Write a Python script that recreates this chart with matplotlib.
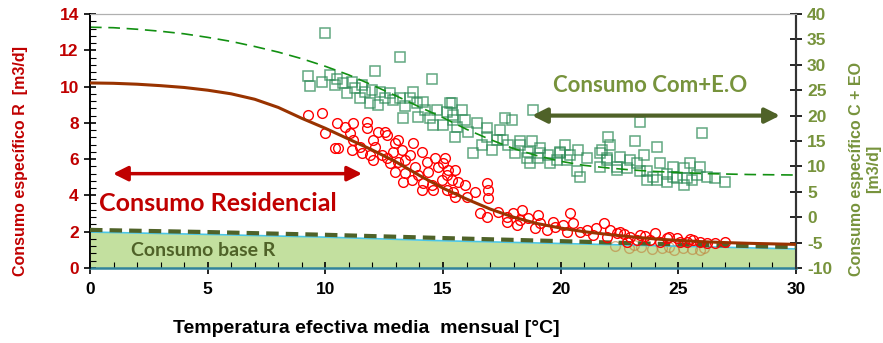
import matplotlib
matplotlib.use("Agg")
import matplotlib.pyplot as plt
from matplotlib.ticker import MultipleLocator

plt.rcParams['font.family'] = ['Liberation Sans', 'DejaVu Sans']
plt.rcParams['font.weight'] = 'bold'
plt.rcParams['axes.labelweight'] = 'bold'
plt.rcParams['axes.unicode_minus'] = False

'''Data read off the chart'''
# residential consumption (left axis, m3/d)
res_T = [9.28, 9.85, 9.99, 10.48, 10.4, 10.55, 10.84, 11.05, 11.19, 11.76, 11.76, 11.19, 11.47, 11.12,
         11.55, 12.04, 12.25, 12.54, 12.61, 12.11, 11.9, 12.04, 12.4, 12.61, 12.96, 13.1, 12.89, 13.25,
         13.1, 12.75, 13.39, 13.74, 14.1, 13.6, 12.96, 13.39, 13.81, 14.31, 14.66, 15.09, 14.8, 15.23,
         13.95, 14.38, 13.67, 14.17, 14.1, 14.52, 14.95, 14.59, 15.16, 15.37, 15.51, 13.32,
         15.02, 15.16, 15.51, 15.65, 15.94, 15.44, 16.01, 16.36, 16.86, 16.93, 16.93, 16.57, 16.86, 17.35,
         17.71, 17.99, 18.35, 18.27, 18.63, 19.05, 19.12, 18.91, 19.69, 19.76, 20.11, 20.4, 20.54, 20.26,
         20.82, 21.11, 21.39, 21.82, 22.1, 21.96, 22.38, 17.71, 18.13, 19.41,
         22.52, 22.95, 23.37, 24.01, 23.8, 24.51, 24.93, 25.36, 25.92, 26.56, 26.99, 22.81, 23.23,
         24.22, 25.07, 25.64, 26.2, 23.6, 24.6, 25.5, 22.7, 21.5]
res_Q = [8.43, 8.56, 7.42, 7.98, 6.6, 6.6, 7.79, 7.42, 7.98, 8.07, 7.7, 7.06, 6.69, 6.5,
         6.32, 7.06, 7.52, 7.52, 7.33, 6.69, 6.23, 5.95, 6.23, 6.05, 6.87, 7.06, 6.41, 6.5,
         5.86, 5.77, 5.95, 6.87, 6.41, 6.23, 5.31, 5.22, 5.58, 5.86, 6.05, 6.05, 5.58, 5.4,
         5.13, 5.31, 4.85, 4.67, 4.3, 4.58, 4.85, 4.3, 4.3, 4.85, 3.93, 4.76,
         5.77, 5.13, 5.4, 4.76, 4.58, 4.21, 3.93, 4.21, 4.67, 4.3, 3.84, 3.02, 2.83, 3.11,
         2.83, 3.02, 3.2, 2.65, 2.74, 2.92, 2.46, 2.19, 2.55, 2.28, 2.37, 3.02, 2.46, 2.0,
         2.0, 2.09, 1.82, 2.46, 2.09, 1.73, 1.91, 2.55, 2.37, 2.09,
         2.0, 1.73, 1.82, 1.91, 1.54, 1.64, 1.64, 1.45, 1.45, 1.4, 1.45, 1.45, 1.54,
         1.45, 1.45, 1.54, 1.36, 1.75, 1.7, 1.6, 1.85, 2.2]

# faint points under the base band
base_T = [22.3, 22.9, 23.4, 23.9, 24.3, 24.8, 25.2, 25.6, 26.1, 23.1, 24.6, 25.9]
base_Q = [1.2, 1.1, 1.15, 1.05, 1.1, 1.0, 1.08, 1.02, 1.1, 1.25, 1.18, 1.0]

# commercial + E.O (right axis, m3/d)
com_T = [9.99, 13.17, 12.11, 14.52, 9.28, 9.35, 9.85, 10.2, 10.48, 10.41, 10.77, 11.12, 10.91, 11.27,
         11.55, 11.69, 11.47, 11.97, 11.9, 12.32, 12.54, 12.75, 12.89, 12.25, 13.17, 13.39, 13.74, 13.6,
         13.88, 14.17, 14.24, 13.32, 13.95, 14.45, 14.73, 15.16, 15.3, 15.44, 14.59, 15.02,
         18.84, 17.92, 17.64, 15.37, 15.8, 15.44, 15.94, 15.58, 16.43, 15.51, 16.08, 16.86, 16.86, 17.42,
         17.28, 16.65, 17.07, 17.78, 18.27, 18.06, 18.77, 18.63, 19.12, 19.05, 19.48, 20.19, 19.97, 20.4,
         20.75, 21.11, 22.03, 21.74, 22.1, 21.96, 19.83, 18.56, 16.29,
         23.37, 26.0, 23.16, 24.08, 26.99, 26.56,
         21.67, 21.96, 22.52, 22.95, 23.52, 22.81, 22.38, 23.66, 24.22, 24.79, 24.51, 25.22, 25.5, 25.36,
         25.78, 24.93, 24.08, 26.2, 23.23, 23.94, 25.92,
         19.97, 20.82, 21.67, 24.79, 25.22, 25.57, 24.51, 23.66, 22.38, 23.37,
         17.57, 18.27, 19.12, 19.55, 20.26, 18.7, 20.68]
com_Q = [36.2, 31.6, 28.8, 27.3, 27.7, 25.8, 26.7, 28.0, 27.3, 26.0, 26.4, 26.7, 24.4, 25.4,
         26.0, 24.7, 23.4, 25.0, 22.4, 24.7, 23.4, 24.4, 23.1, 22.1, 23.4, 21.8, 24.7, 23.4,
         22.4, 22.7, 21.1, 19.5, 19.8, 19.5, 21.1, 20.8, 22.4, 19.1, 18.1, 18.1,
         21.1, 19.1, 19.5, 22.4, 21.1, 20.1, 19.1, 17.8, 18.5, 15.8, 16.8, 17.5, 15.8, 17.2,
         15.2, 14.2, 13.2, 14.2, 14.9, 12.6, 14.9, 12.9, 13.6, 11.6, 12.2, 14.2, 12.6, 12.2,
         13.2, 11.6, 15.8, 13.2, 14.2, 11.6, 11.3, 11.6, 12.6,
         18.8, 16.5, 14.9, 13.9, 7.0, 7.7,
         12.6, 11.3, 11.9, 11.3, 12.2, 9.6, 9.9, 9.0, 10.6, 9.9, 8.6, 9.6, 10.6, 7.7,
         8.3, 7.7, 7.3, 8.0, 10.6, 8.0, 9.9,
         12.9, 8.0, 9.9, 8.0, 6.3, 7.3, 7.0, 7.3, 9.3, 9.0,
         15.2, 14.2, 12.6, 10.6, 11.3, 10.6, 9.0]

# fitted curves
curve_T = list(range(0, 31))
res_fit = [10.2, 10.18, 10.13, 10.05, 9.95, 9.8, 9.6, 9.3, 8.85, 8.25, 7.7, 7.1, 6.5, 5.85, 5.1, 4.4,
           3.8, 3.25, 2.8, 2.45, 2.2, 2.0, 1.85, 1.72, 1.6, 1.52, 1.45, 1.4, 1.36, 1.33, 1.3]
com_fit = [37.4, 37.3, 37.0, 36.6, 36.1, 35.4, 34.6, 33.6, 32.5, 31.2, 29.7, 28.0, 26.0, 23.9, 21.7,
           19.6, 17.3, 15.3, 13.5, 12.1, 11.0, 10.2, 9.7, 9.3, 9.0, 8.8, 8.6, 8.5, 8.4, 8.35, 8.3]

# base consumption band
band_T = [0, 5, 10, 15, 20, 25, 30]
band_top = [1.98, 1.85, 1.7, 1.5, 1.35, 1.2, 1.05]
band_dash = [2.1, 1.98, 1.83, 1.65, 1.48, 1.3, 1.15]

'''Plot'''
fig = plt.figure(figsize=(8.83, 3.43), dpi=100)
ax = fig.add_axes([0.1019, 0.2187, 0.7996, 0.7405])
ax2 = ax.twinx()
ax.set_zorder(ax2.get_zorder() + 1)
ax.patch.set_visible(False)

red = '#c00000'
olive = '#77933c'
dark_olive = '#4f6228'

ax.fill_between(band_T, 0, band_top, color='#c3e09f', zorder=1, linewidth=0)
ax.plot(band_T, band_top, color='#4bc6e6', lw=1.2, zorder=2)
ax.plot([30, 30], [0, band_top[-1]], color='#4bc6e6', lw=1.2, zorder=2)
ax.plot([0, 30], [0, 0], color='#31849b', lw=1.8, zorder=2, clip_on=False)
ax.plot(base_T, base_Q, 'o', mfc='none', mec='#c0803a', ms=7, mew=1, alpha=0.6, zorder=1.5)
ax.plot(band_T, band_dash, color=dark_olive, lw=3, dashes=(3, 1.7), zorder=3)

ax2.plot(com_T, com_Q, 's', mfc='none', mec='#2e8b57', ms=7.5, mew=1.1, alpha=0.75)
ax2.plot(curve_T, com_fit, color='#129012', lw=1.2, dashes=(7, 4))

ax.plot(res_T, res_Q, 'o', mfc='none', mec='#ff0000', ms=7, mew=1, zorder=4)
ax.plot(curve_T, res_fit, color='#993300', lw=2.2, zorder=5)

ax.set_xlim(0, 30)
ax.set_ylim(0, 14)
ax2.set_ylim(-10, 40)

ax.xaxis.set_major_locator(MultipleLocator(5))
ax.xaxis.set_minor_locator(MultipleLocator(1))
ax.yaxis.set_major_locator(MultipleLocator(2))
ax.yaxis.set_minor_locator(MultipleLocator(0.4))
ax2.yaxis.set_major_locator(MultipleLocator(5))

ax.tick_params(axis='x', which='major', direction='inout', length=8, width=1.2, labelsize=12.5, pad=6)
ax.tick_params(axis='x', which='minor', direction='in', length=4, width=0.8)
ax.tick_params(axis='y', which='major', direction='inout', length=8, width=1.2, labelsize=12.5,
               labelcolor=red, pad=4)
ax.tick_params(axis='y', which='minor', direction='in', length=4, width=0.8)
ax2.tick_params(axis='y', direction='inout', length=8, width=1.2, labelsize=12.5, labelcolor=olive, pad=4)

for a in (ax, ax2):
    a.spines['top'].set_color('#b0b0b0')
    a.spines['left'].set_linewidth(1.2)
    a.spines['right'].set_color('#333333')
    a.spines['right'].set_linewidth(1.5)
    a.spines['bottom'].set_visible(False)

ax.set_xlabel('Temperatura efectiva media  mensual [°C]', fontsize=14)
ax.xaxis.set_label_coords(0.392, -0.205)
ax.set_ylabel('Consumo específico R  [m3/d]', fontsize=11.5, color=red)
ax.yaxis.set_label_coords(-0.088, 0.42)
ax2.set_ylabel('Consumo específico C + EO\n[m3/d]', fontsize=11.5, color=olive,
               linespacing=1.2, rotation=90, va='center')
ax2.yaxis.set_label_coords(1.098, 0.39)

# arrows and labels
ax.annotate('', xy=(0.98, 5.2), xytext=(11.56, 5.2),
            arrowprops=dict(arrowstyle='<|-|>', color=red, lw=2.5, mutation_scale=22,
                            shrinkA=0, shrinkB=0))
ax.text(5.42, 3.55, 'Consumo Residencial', color=red, fontsize=18, fontweight='bold',
        family='Lato', ha='center', va='center')
ax2.annotate('', xy=(18.78, 20), xytext=(29.32, 20),
             arrowprops=dict(arrowstyle='<|-|>', color=dark_olive, lw=3, mutation_scale=22,
                             shrinkA=0, shrinkB=0))
ax2.text(23.8, 26.0, 'Consumo Com+E.O', color=olive, fontsize=16, fontweight='bold',
         family='Lato', ha='center', va='center')
ax.text(4.8, 0.95, 'Consumo base R', color=dark_olive, fontsize=14, fontweight='bold',
        family='Lato', ha='center', va='center')

plt.savefig('out.png', dpi=100)
